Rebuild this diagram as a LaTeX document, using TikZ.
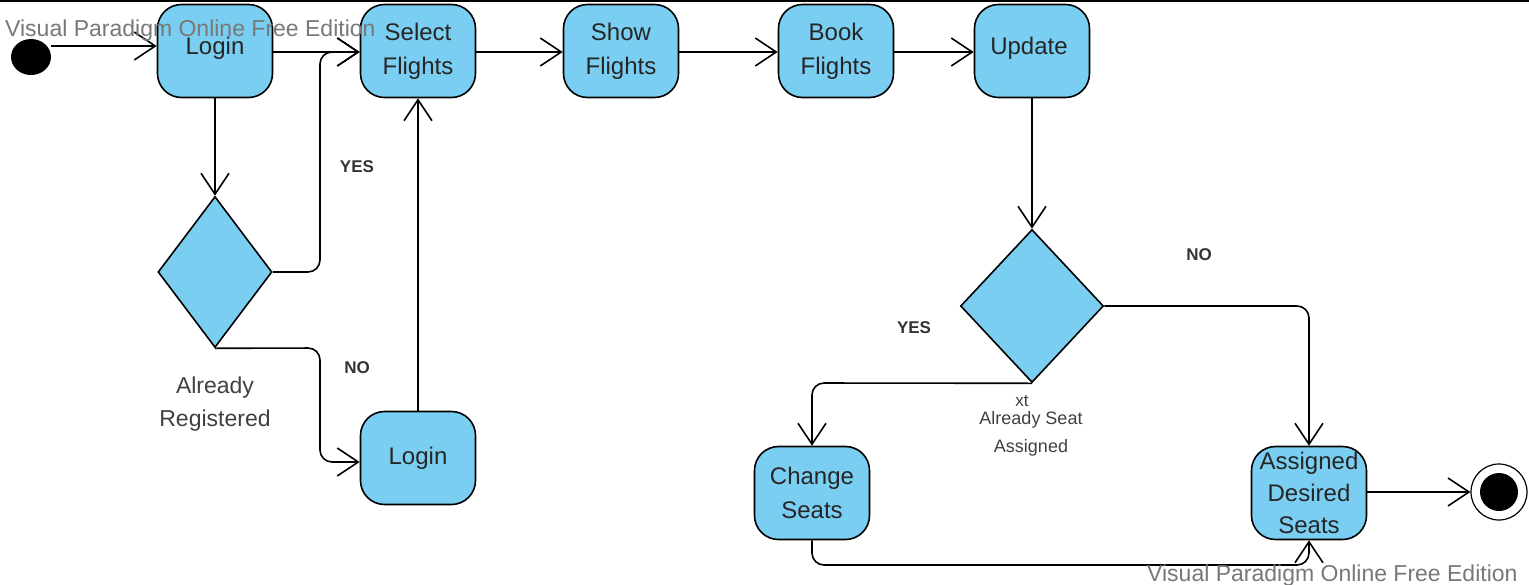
\documentclass[tikz,border=0pt]{standalone}
\usepackage{fontspec}
\setmainfont{Liberation Sans}
\usetikzlibrary{arrows.meta,shapes.geometric,calc}
\definecolor{actfill}{RGB}{122,206,242}
\definecolor{wm}{RGB}{120,120,120}
\tikzset{
  act/.style={draw=black,line width=1.6pt,fill=actfill,rounded corners=24pt,minimum width=115pt,minimum height=93pt,align=center,inner sep=0pt,font=\fontsize{24}{34}\selectfont,text=black!85},
  dec/.style={draw=black,line width=1.6pt,fill=actfill,diamond,inner sep=0pt},
  flow/.style={draw=black,line width=1.6pt,rounded corners=12pt,-{Straight Barb[length=21pt,width=28pt,line width=1.6pt]}},
  guard/.style={font=\bfseries\fontsize{17}{20}\selectfont,text=black!80},
  note/.style={align=center,text=black!75},
  wmark/.style={text=wm,font=\fontsize{23}{26}\selectfont,inner sep=0pt}
}
\begin{document}
\begin{tikzpicture}[x=1pt,y=-1pt]
\useasboundingbox (0,0) rectangle (1529,584);
\draw[line width=2pt] (0,1) -- (1529,1);
% nodes
\node[fill=black,ellipse,minimum width=40pt,minimum height=36pt,inner sep=0pt] (init) at (31,57) {};
\node[act] (login1) at (215,51) {};
\node[font=\fontsize{24}{34}\selectfont,text=black!85] at (215,48) {Login};
\node[act] (select) at (418,51) {Select\\Flights};
\node[act] (show) at (621,51) {Show\\Flights};
\node[act] (book) at (836,51) {Book\\Flights};
\node[act] (update) at (1032,51) {};
\node[font=\fontsize{24}{34}\selectfont,text=black!85] at (1029,48) {Update};
\node[dec,minimum width=114pt,minimum height=151pt] (d1) at (215,272) {};
\node[act] (login2) at (418,458) {Login};
\node[dec,minimum width=143pt,minimum height=153pt] (d2) at (1032,306) {};
\node[act] (change) at (812,493) {Change\\Seats};
\node[act,font=\fontsize{24}{32}\selectfont] (assigned) at (1309,493) {Assigned\\Desired\\Seats};
\node[circle,draw=black,line width=1.2pt,fill=white,minimum size=56pt,inner sep=0pt] (final) at (1499,492) {};
\node[circle,fill=black,minimum size=38pt,inner sep=0pt] at (final) {};
% connectors
\draw[flow] (init.east |- 0,46) -- (login1.west |- 0,46);
\draw[flow] (login1.east |- 0,52) -- (select.west |- 0,52);
\draw[flow] (login1.south) -- (d1.north);
\draw[flow] (d1.east) -- (320,272) -- (320,52) -- (select.west |- 0,52);
\draw[flow] (d1.south) -- (320,348) -- (320,462) -- (login2.west |- 0,462);
\draw[flow] (login2.north) -- (select.south);
\draw[flow] (select.east |- 0,52) -- (show.west |- 0,52);
\draw[flow] (show.east |- 0,52) -- (book.west |- 0,52);
\draw[flow] (book.east |- 0,52) -- (update.west |- 0,52);
\draw[flow] (update.south) -- (d2.north);
\draw[flow] (d2.east) -- (1309,306) -- (assigned.north);
\draw[flow] (d2.south) -- (812,383) -- (change.north);
\draw[flow] (change.south) -- (812,565) -- (1309,565) -- (assigned.south);
\draw[flow,line width=2.6pt] (assigned.east |- 0,492) -- (final.west);
% labels
\node[guard] (yes1) at (357,167) {YES};
\node[guard] (no1) at (357,368) {NO};
\node[guard] (yes2) at (914,328) {YES};
\node[guard] (no2) at (1199,255) {NO};
\node[note,font=\fontsize{23}{33}\selectfont] (lab1) at (215,404) {Already\\Registered};
\node[note,font=\fontsize{17}{20}\selectfont] (xt) at (1022,401) {xt};
\node[note,font=\fontsize{18}{28}\selectfont] (lab2) at (1031,434) {Already Seat\\Assigned};
\node[wmark,anchor=west] (wm1) at (5,31) {Visual Paradigm Online Free Edition};
\node[wmark,anchor=west] (wm2) at (1147,576) {Visual Paradigm Online Free Edition};
\end{tikzpicture}
\end{document}
